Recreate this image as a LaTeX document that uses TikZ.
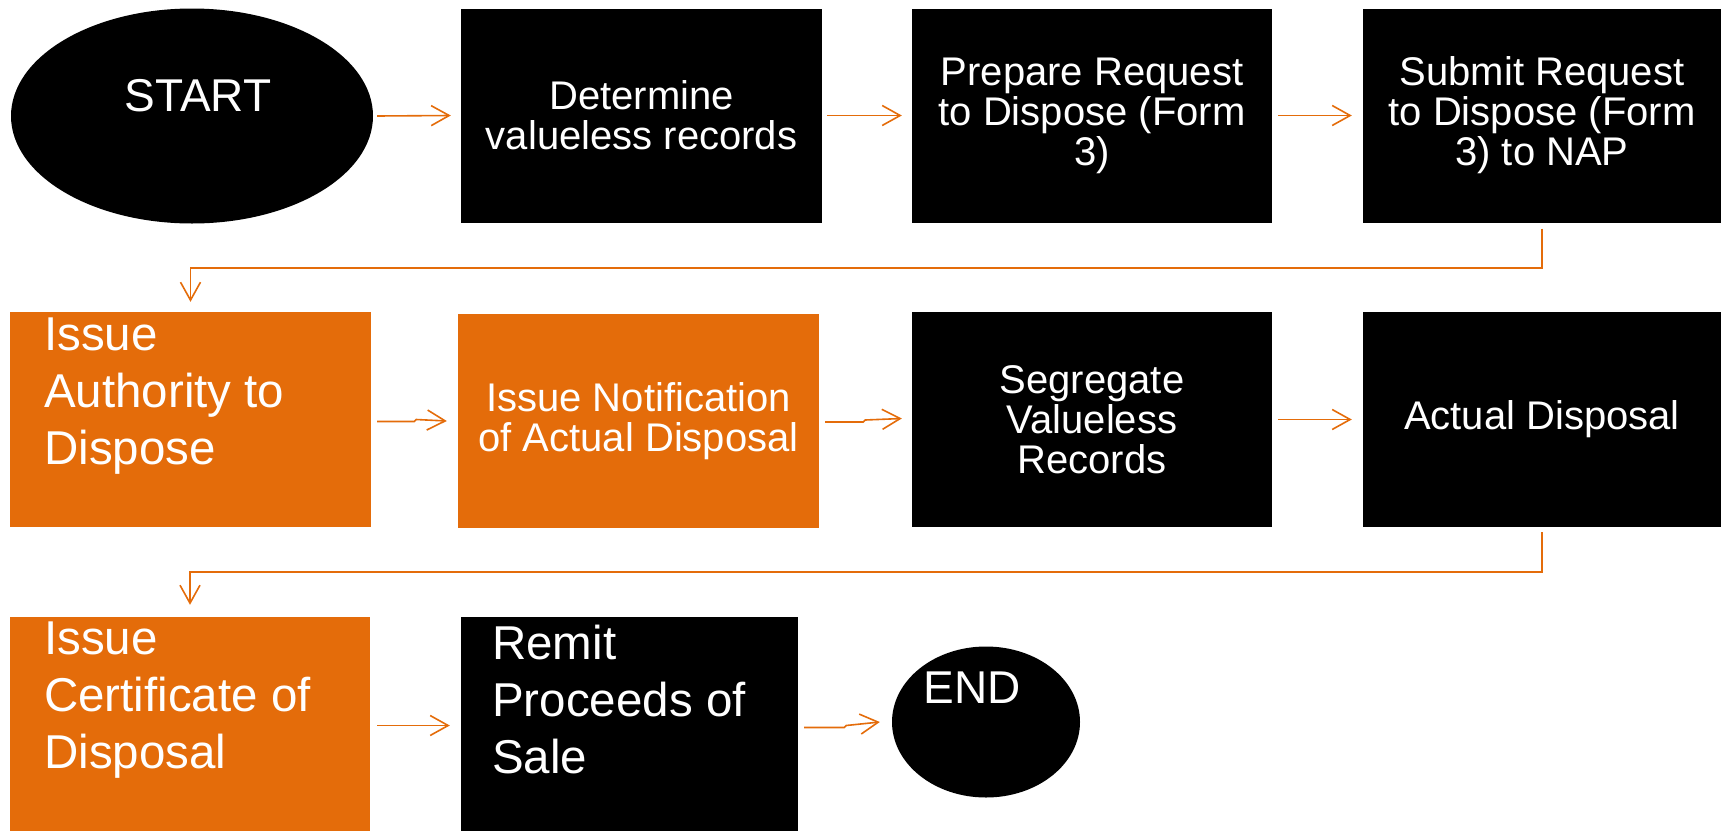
\documentclass[tikz,border=0pt]{standalone}
\usepackage{fontspec}
\setmainfont{Liberation Sans}
\usetikzlibrary{shapes.geometric,arrows.meta,calc}
\definecolor{flowor}{HTML}{E46C0A}
\tikzset{
  stepbox/.style={rectangle, inner sep=0pt, minimum width=#1, minimum height=214pt,
    text=white, align=center, font=\fontsize{40}{40}\selectfont},
  stepbox/.default=360pt,
  blackbox/.style={stepbox=#1, fill=black},
  blackbox/.default=360pt,
  orangebox/.style={stepbox=#1, fill=flowor},
  orangebox/.default=360pt,
  termnode/.style={ellipse, fill=black, inner sep=0pt},
  bigtext/.style={text=white, inner sep=0pt, align=left, anchor=north west,
    font=\fontsize{47.5}{57}\selectfont},
  termtext/.style={text=white, inner sep=0pt, anchor=base,
    font=\fontsize{46}{46}\selectfont},
  flow/.style={draw=flowor, line width=1.6pt,
    -{Straight Barb[length=18pt, width=20pt, line width=1.6pt]}},
}
\begin{document}
\begin{tikzpicture}[x=1pt, y=-1pt]
\useasboundingbox (0,0) rectangle (1729,830);

% row 1
\node[termnode, minimum width=362pt, minimum height=215pt] (start) at (192,116) {};
\node[termtext] (startlbl) at (198,111) {START};
\node[blackbox=361pt] (det) at (641.5,115.5) {Determine\\valueless records};
\node[blackbox] (prep) at (1092,115.5) {Prepare Request\\to Dispose (Form\\3)};
\node[blackbox=358pt] (subm) at (1542,115.5) {Submit Request\\to Dispose (Form\\3) to NAP};

% row 2
\node[orangebox=361pt, minimum height=215pt] (auth) at (190.5,419.5) {};
\node[bigtext] (authlbl) at (44,318) {Issue\\Authority to\\Dispose};
\node[orangebox=361pt] (notif) at (638.5,421) {Issue Notification\\of Actual Disposal};
\node[blackbox, minimum height=215pt] (segr) at (1092,419.5) {Segregate\\Valueless\\Records};
\node[blackbox=358pt, minimum height=215pt] (actual) at (1542,419.5) {Actual Disposal};

% row 3
\node[orangebox, minimum height=215pt] (cert) at (190,724.5) {};
\node[bigtext] (certlbl) at (44,622) {Issue\\Certificate of\\Disposal};
\node[blackbox=337pt, minimum height=215pt] (remit) at (629.5,724.5) {};
\node[bigtext] (remitlbl) at (492,625) {Remit\\Proceeds of\\Sale};
\node[termnode, minimum width=188pt, minimum height=151pt] (end) at (986,722) {};
\node[termtext] (endlbl) at (972,703) {END};

% connectors, row 1
\draw[flow] ([xshift=4pt]start.east) -- ([xshift=-10pt]det.west);
\draw[flow] ([xshift=5pt]det.east) -- ([xshift=-10pt]prep.west);
\draw[flow] ([xshift=6pt]prep.east) -- ([xshift=-11pt]subm.west);
\draw[flow] ([yshift=-6pt]subm.south) -- ++(0,39) -| ([yshift=10pt]auth.north);

% connectors, row 2
\draw[flow] ([xshift=6pt,yshift=-2pt]auth.east) -- ++(37,0) -- ++(2,-2) -- ([xshift=-11pt]notif.west);
\draw[flow] ([xshift=6pt,yshift=-1pt]notif.east) -- ++(38,0) -- ++(2,-2) -- ([xshift=-10pt,yshift=1pt]segr.west);
\draw[flow] ([xshift=6pt]segr.east) -- ([xshift=-11pt]actual.west);
\draw[flow] ([yshift=-5pt]actual.south) -- ++(0,40) -| ([yshift=12pt]cert.north);

% connectors, row 3
\draw[flow] ([xshift=7pt,yshift=-1pt]cert.east) -- ([xshift=-11pt,yshift=-1pt]remit.west);
\draw[flow] ([xshift=6pt,yshift=-3pt]remit.east) -- ++(40,0) -- ++(2,-2) -- ([xshift=-12pt]end.west);
\end{tikzpicture}
\end{document}
